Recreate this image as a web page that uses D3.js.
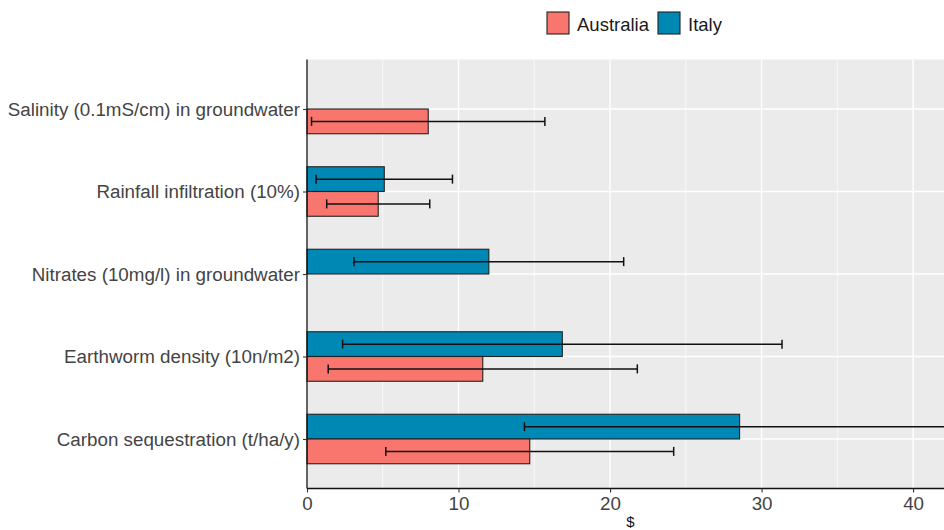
<!DOCTYPE html>
<html>
<head>
<meta charset="utf-8">
<script src="https://cdn.jsdelivr.net/npm/d3@7"></script>
<style>
  body { margin: 0; background: #fff; }
  svg { display: block; font-family: "Liberation Sans", Arial, sans-serif; }
</style>
</head>
<body>
<svg width="944" height="530"></svg>
<script>
// categories top to bottom
let categories = [
  "Salinity (0.1mS/cm) in groundwater",
  "Rainfall infiltration (10%)",
  "Nitrates (10mg/l) in groundwater",
  "Earthworm density (10n/m2)",
  "Carbon sequestration (t/ha/y)"
];
let australia    = [8.0, 4.7, null, 11.6, 14.7];
let australiaErr = [7.7, 3.4, null, 10.2, 9.5];
let italy        = [null, 5.1, 12.0, 16.85, 28.55];
let italyErr     = [null, 4.5, 8.9, 14.5, 14.2];
let xTicks = [0, 10, 20, 30, 40];
let xMinor = [5, 15, 25, 35];
let seriesNames = ["Australia", "Italy"];
let colors = {Australia: "#F8766D", Italy: "#0088B5"};

(function() {
  let svg = d3.select("svg");
  let pLeft = 307, pTop = 59.5, pBottom = 488.5, pRight = 954;

  let x = d3.scaleLinear().domain([0, 42.7]).range([pLeft, pRight]);
  let y = d3.scalePoint().domain(categories).range([pTop, pBottom]).padding(0.6);
  let step = y.step(), bh = step * 0.3;

  // panel
  svg.append("rect")
    .attr("x", pLeft).attr("y", pTop)
    .attr("width", pRight - pLeft).attr("height", pBottom - pTop)
    .attr("fill", "#EBEBEB");

  let grid = svg.append("g");
  grid.selectAll(".minor").data(xMinor).join("line")
    .attr("x1", d => x(d)).attr("x2", d => x(d))
    .attr("y1", pTop).attr("y2", pBottom)
    .attr("stroke", "#fff").attr("stroke-width", 0.7);
  grid.selectAll(".major").data(xTicks).join("line")
    .attr("x1", d => x(d)).attr("x2", d => x(d))
    .attr("y1", pTop).attr("y2", pBottom)
    .attr("stroke", "#fff").attr("stroke-width", 1.4);
  grid.selectAll(".hmaj").data(categories).join("line")
    .attr("x1", pLeft).attr("x2", pRight)
    .attr("y1", d => y(d)).attr("y2", d => y(d))
    .attr("stroke", "#fff").attr("stroke-width", 1.4);

  // rows: Italy above centre, Australia below
  let rows = [];
  categories.forEach(function(c, i) {
    if (italy[i] != null) rows.push({cat: c, s: "Italy", v: italy[i], e: italyErr[i], off: -bh});
    if (australia[i] != null) rows.push({cat: c, s: "Australia", v: australia[i], e: australiaErr[i], off: 0});
  });

  svg.append("g").selectAll("rect").data(rows).join("rect")
    .attr("x", x(0))
    .attr("y", d => y(d.cat) + d.off)
    .attr("width", d => x(d.v) - x(0))
    .attr("height", bh)
    .attr("fill", d => colors[d.s])
    .attr("stroke", "#222").attr("stroke-width", 1.1);

  // error bars
  let eb = svg.append("g").attr("stroke", "#111").attr("stroke-width", 1.5);
  rows.forEach(function(d) {
    let cy = y(d.cat) + d.off + bh / 2;
    let g = eb.append("g");
    g.append("line").attr("x1", x(d.v - d.e)).attr("x2", x(d.v + d.e)).attr("y1", cy).attr("y2", cy);
    [d.v - d.e, d.v + d.e].forEach(function(v) {
      g.append("line").attr("x1", x(v)).attr("x2", x(v)).attr("y1", cy - 4.5).attr("y2", cy + 4.5);
    });
  });

  // axes
  let xAxis = svg.append("g")
    .attr("transform", "translate(0," + pBottom + ")")
    .call(d3.axisBottom(x).tickValues(xTicks).tickSize(4).tickPadding(4));
  let yAxis = svg.append("g")
    .attr("transform", "translate(" + pLeft + ",0)")
    .call(d3.axisLeft(y).tickSize(4).tickPadding(3));
  [xAxis, yAxis].forEach(function(a) {
    a.select(".domain").attr("stroke", "#111").attr("stroke-width", 1.3);
    a.selectAll(".tick line").attr("stroke", "#333").attr("stroke-width", 1.1);
    a.selectAll(".tick text").attr("fill", "#444").style("font-size", "18.8px")
      .style("font-family", "'Liberation Sans', Arial, sans-serif");
  });
  yAxis.select(".domain").attr("d", "M0," + pTop + "V" + pBottom);
  xAxis.select(".domain").attr("d", "M" + pLeft + ",0H" + pRight);

  // x-axis title
  svg.append("text")
    .attr("x", (pLeft + pRight) / 2).attr("y", 527)
    .attr("text-anchor", "middle")
    .style("font-size", "15px").attr("fill", "#111")
    .text("$");

  // legend
  let legend = svg.append("g").attr("transform", "translate(547,12)");
  let lx = [0, 111];
  seriesNames.forEach(function(s, i) {
    let g = legend.append("g").attr("transform", "translate(" + lx[i] + ",0)");
    g.append("rect").attr("width", 22).attr("height", 22)
      .attr("fill", colors[s]).attr("stroke", "#222").attr("stroke-width", 1.1);
    g.append("text").attr("x", 30).attr("y", 18.5)
      .style("font-size", "18.5px").attr("fill", "#1a1a1a").text(s);
  });
})();
</script>
</body>
</html>
